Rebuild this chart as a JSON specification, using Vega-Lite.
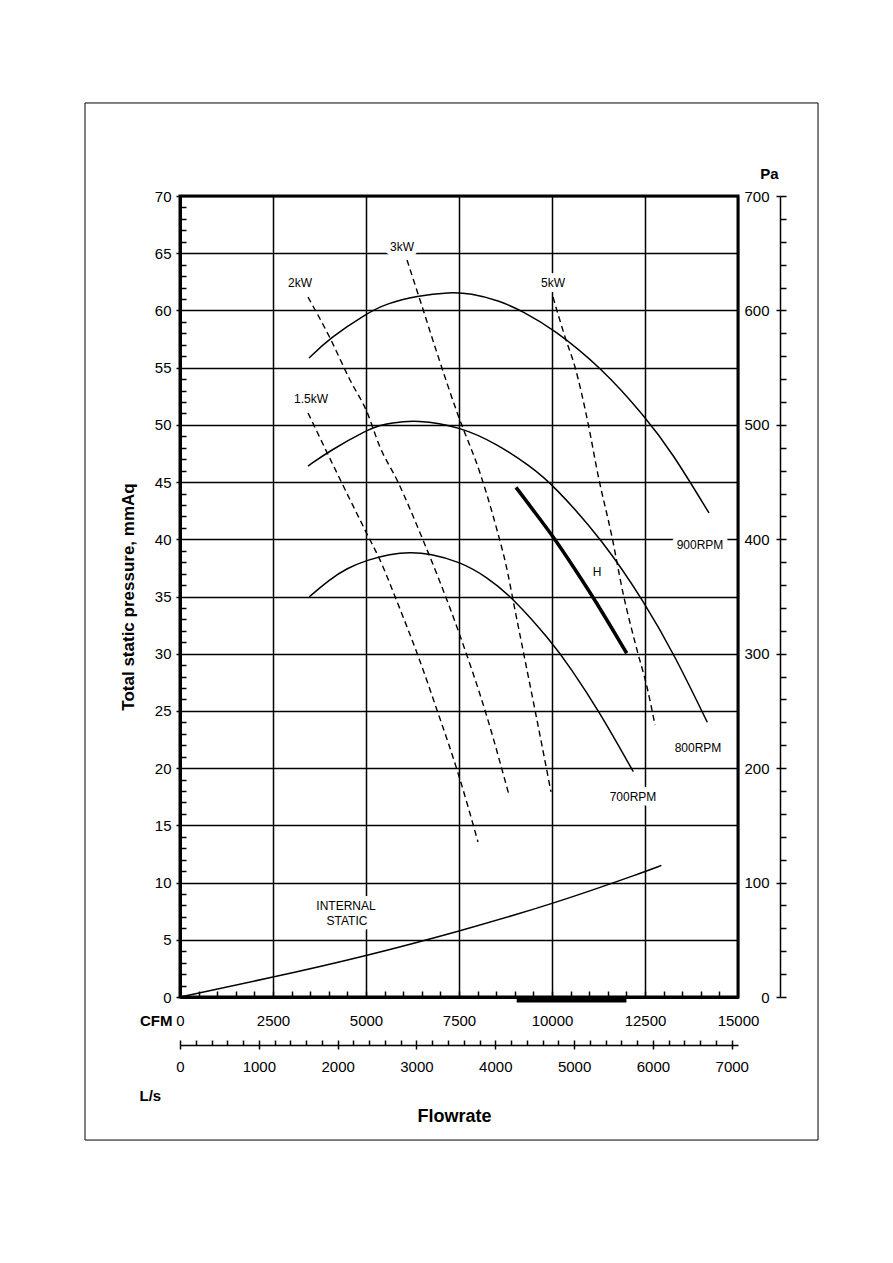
{
  "$schema": "https://vega.github.io/schema/vega-lite/v6.json",
  "width": 558,
  "height": 801,
  "autosize": {"type": "none"},
  "padding": {"left": 180, "top": 196, "right": 155, "bottom": 266},
  "background": "white",
  "config": {
    "font": "Liberation Sans",
    "view": {"stroke": "black", "strokeWidth": 3},
    "axis": {
      "domainColor": "black", "tickColor": "black", "labelColor": "black", "titleColor": "black",
      "labelFont": "Liberation Sans", "titleFont": "Liberation Sans", "labelFontSize": 15,
      "gridColor": "black", "gridOpacity": 1, "tickWidth": 1.5, "labelOverlap": false, "labelFlush": false
    }
  },
  "datasets": {
    "curves": [
      {"s": "900RPM", "cfm": 3468, "p": 55.84},
      {"s": "900RPM", "cfm": 4032, "p": 57.6},
      {"s": "900RPM", "cfm": 5019, "p": 59.75},
      {"s": "900RPM", "cfm": 5556, "p": 60.6},
      {"s": "900RPM", "cfm": 6363, "p": 61.28},
      {"s": "900RPM", "cfm": 7258, "p": 61.6},
      {"s": "900RPM", "cfm": 7796, "p": 61.5},
      {"s": "900RPM", "cfm": 8602, "p": 60.85},
      {"s": "900RPM", "cfm": 9220, "p": 59.9},
      {"s": "900RPM", "cfm": 10027, "p": 58.4},
      {"s": "900RPM", "cfm": 11336, "p": 54.97},
      {"s": "900RPM", "cfm": 12500, "p": 50.71},
      {"s": "900RPM", "cfm": 13226, "p": 47.6},
      {"s": "900RPM", "cfm": 14220, "p": 42.3},
      {"s": "800RPM", "cfm": 3441, "p": 46.4},
      {"s": "800RPM", "cfm": 4032, "p": 47.75},
      {"s": "800RPM", "cfm": 5027, "p": 49.55},
      {"s": "800RPM", "cfm": 5376, "p": 49.95},
      {"s": "800RPM", "cfm": 5645, "p": 50.15},
      {"s": "800RPM", "cfm": 6363, "p": 50.45},
      {"s": "800RPM", "cfm": 7527, "p": 49.84},
      {"s": "800RPM", "cfm": 8513, "p": 48.35},
      {"s": "800RPM", "cfm": 9409, "p": 46.4},
      {"s": "800RPM", "cfm": 10035, "p": 44.75},
      {"s": "800RPM", "cfm": 11380, "p": 39.85},
      {"s": "800RPM", "cfm": 12500, "p": 34.41},
      {"s": "800RPM", "cfm": 13306, "p": 29.8},
      {"s": "800RPM", "cfm": 14175, "p": 24.01},
      {"s": "700RPM", "cfm": 3476, "p": 34.98},
      {"s": "700RPM", "cfm": 4032, "p": 36.5},
      {"s": "700RPM", "cfm": 4481, "p": 37.46},
      {"s": "700RPM", "cfm": 5035, "p": 38.19},
      {"s": "700RPM", "cfm": 5645, "p": 38.71},
      {"s": "700RPM", "cfm": 6183, "p": 38.88},
      {"s": "700RPM", "cfm": 6720, "p": 38.75},
      {"s": "700RPM", "cfm": 7527, "p": 38.04},
      {"s": "700RPM", "cfm": 8244, "p": 36.73},
      {"s": "700RPM", "cfm": 8960, "p": 34.84},
      {"s": "700RPM", "cfm": 9946, "p": 31.2},
      {"s": "700RPM", "cfm": 10484, "p": 28.84},
      {"s": "700RPM", "cfm": 11290, "p": 24.85},
      {"s": "700RPM", "cfm": 12185, "p": 19.69},
      {"s": "INTERNAL", "cfm": 0, "p": 0},
      {"s": "INTERNAL", "cfm": 2500, "p": 1.72},
      {"s": "INTERNAL", "cfm": 5000, "p": 3.58},
      {"s": "INTERNAL", "cfm": 7500, "p": 5.74},
      {"s": "INTERNAL", "cfm": 10000, "p": 8.1},
      {"s": "INTERNAL", "cfm": 12500, "p": 10.95},
      {"s": "INTERNAL", "cfm": 12940, "p": 11.5},
      {"s": "H", "cfm": 9032, "p": 44.54},
      {"s": "H", "cfm": 9497, "p": 42.53},
      {"s": "H", "cfm": 10035, "p": 40.23},
      {"s": "H", "cfm": 10573, "p": 37.6},
      {"s": "H", "cfm": 11156, "p": 34.7},
      {"s": "H", "cfm": 12008, "p": 30.04},
      {"s": "1.5kW", "cfm": 3441, "p": 51.04},
      {"s": "1.5kW", "cfm": 4220, "p": 45.79},
      {"s": "1.5kW", "cfm": 5000, "p": 40.64},
      {"s": "1.5kW", "cfm": 5376, "p": 38.19},
      {"s": "1.5kW", "cfm": 5860, "p": 34.34},
      {"s": "1.5kW", "cfm": 6371, "p": 30.06},
      {"s": "1.5kW", "cfm": 6936, "p": 24.82},
      {"s": "1.5kW", "cfm": 7473, "p": 19.58},
      {"s": "1.5kW", "cfm": 8011, "p": 13.55},
      {"s": "2kW", "cfm": 3441, "p": 61.17},
      {"s": "2kW", "cfm": 4032, "p": 57.59},
      {"s": "2kW", "cfm": 4570, "p": 53.92},
      {"s": "2kW", "cfm": 5027, "p": 51.12},
      {"s": "2kW", "cfm": 5376, "p": 48.06},
      {"s": "2kW", "cfm": 5833, "p": 45.18},
      {"s": "2kW", "cfm": 6532, "p": 39.94},
      {"s": "2kW", "cfm": 7473, "p": 32.07},
      {"s": "2kW", "cfm": 8253, "p": 24.47},
      {"s": "2kW", "cfm": 8844, "p": 17.65},
      {"s": "3kW", "cfm": 6102, "p": 64.41},
      {"s": "3kW", "cfm": 6452, "p": 60.91},
      {"s": "3kW", "cfm": 6909, "p": 56.28},
      {"s": "3kW", "cfm": 7473, "p": 50.86},
      {"s": "3kW", "cfm": 8065, "p": 45.79},
      {"s": "3kW", "cfm": 8522, "p": 40.81},
      {"s": "3kW", "cfm": 8764, "p": 37.75},
      {"s": "3kW", "cfm": 9005, "p": 33.82},
      {"s": "3kW", "cfm": 9274, "p": 29.45},
      {"s": "3kW", "cfm": 9543, "p": 25.08},
      {"s": "3kW", "cfm": 9973, "p": 17.92},
      {"s": "5kW", "cfm": 10027, "p": 61.17},
      {"s": "5kW", "cfm": 10350, "p": 57.68},
      {"s": "5kW", "cfm": 10618, "p": 55.06},
      {"s": "5kW", "cfm": 10968, "p": 50.16},
      {"s": "5kW", "cfm": 11237, "p": 45.62},
      {"s": "5kW", "cfm": 11613, "p": 40.2},
      {"s": "5kW", "cfm": 11909, "p": 35.31},
      {"s": "5kW", "cfm": 12285, "p": 30.33},
      {"s": "5kW", "cfm": 12554, "p": 27.09},
      {"s": "5kW", "cfm": 12769, "p": 23.77}
    ],
    "labels": [
      {"t": "2kW", "cfm": 3226, "p": 62.4},
      {"t": "3kW", "cfm": 5968, "p": 65.5},
      {"t": "5kW", "cfm": 10027, "p": 62.4},
      {"t": "1.5kW", "cfm": 3522, "p": 52.3},
      {"t": "H", "cfm": 11210, "p": 37.1},
      {"t": "900RPM", "cfm": 13979, "p": 39.5},
      {"t": "800RPM", "cfm": 13925, "p": 21.8},
      {"t": "700RPM", "cfm": 12177, "p": 17.5},
      {"t": "INTERNAL", "cfm": 4462, "p": 7.95},
      {"t": "STATIC", "cfm": 4489, "p": 6.64}
    ],
    "bar": [{"a": 9050, "b": 12000, "p": 0}],
    "frame": [{"x0": -2554, "x1": 17151, "y0": -12.5, "y1": 78.13}]
  },
  "resolve": {"axis": {"x": "independent", "y": "independent"}},
  "layer": [
    {
      "data": {"name": "frame"},
      "mark": {"type": "rect", "filled": false, "stroke": "black", "strokeWidth": 1, "clip": false},
      "encoding": {
        "x": {"field": "x0", "type": "quantitative", "scale": {"domain": [0, 15000], "nice": false}, "axis": null},
        "x2": {"field": "x1"},
        "y": {"field": "y0", "type": "quantitative", "scale": {"domain": [0, 70], "nice": false}, "axis": null},
        "y2": {"field": "y1"}
      }
    },
    {
      "data": {"name": "labels"},
      "mark": {"type": "text", "fontSize": 12, "fill": "white", "stroke": "white", "strokeWidth": 10, "strokeJoin": "round", "align": "center", "baseline": "middle"},
      "encoding": {
        "x": {"field": "cfm", "type": "quantitative", "scale": {"domain": [0, 15000], "nice": false}, "axis": null},
        "y": {"field": "p", "type": "quantitative", "scale": {"domain": [0, 70], "nice": false}, "axis": null},
        "text": {"field": "t"}
      }
    },
    {
      "data": {"name": "curves"},
      "transform": [{"filter": {"field": "s", "oneOf": ["900RPM", "800RPM", "700RPM", "INTERNAL"]}}],
      "mark": {"type": "line", "color": "black", "strokeWidth": 1.5, "interpolate": "basis"},
      "encoding": {
        "x": {"field": "cfm", "type": "quantitative", "scale": {"domain": [0, 15000], "nice": false},
          "axis": {"orient": "bottom", "values": [0, 2500, 5000, 7500, 10000, 12500, 15000], "format": "d",
            "tickSize": 0, "labelPadding": 16.5, "grid": true, "gridWidth": 1.5, "domain": true, "domainWidth": 3,
            "title": "CFM", "titleX": -8, "titleY": 23, "titleAlign": "right", "titleBaseline": "middle",
            "titleFontSize": 15, "titleFontWeight": "bold", "titleAngle": 0}},
        "y": {"field": "p", "type": "quantitative", "scale": {"domain": [0, 70], "nice": false},
          "axis": {"orient": "left", "values": [0, 5, 10, 15, 20, 25, 30, 35, 40, 45, 50, 55, 60, 65, 70],
            "tickSize": 4, "labelPadding": 5, "grid": true, "gridWidth": 1.5, "domain": true, "domainWidth": 3,
            "title": "Total static pressure, mmAq", "titleX": -52, "titleY": 400.5, "titleAngle": -90,
            "titleAlign": "center", "titleBaseline": "middle", "titleFontSize": 17, "titleFontWeight": "bold"}},
        "detail": {"field": "s"}
      }
    },
    {
      "data": {"name": "curves"},
      "transform": [{"filter": {"field": "s", "equal": "H"}}],
      "mark": {"type": "line", "color": "black", "strokeWidth": 3.5, "interpolate": "basis"},
      "encoding": {
        "x": {"field": "cfm", "type": "quantitative", "scale": {"domain": [0, 15000], "nice": false},
          "axis": {"orient": "top", "offset": -801,
            "values": [500, 1000, 1500, 2000, 2500, 3000, 3500, 4000, 4500, 5000, 5500, 6000, 6500, 7000, 7500, 8000, 8500, 9000, 9500, 10000, 10500, 11000, 11500, 12000, 12500, 13000, 13500, 14000, 14500],
            "tickSize": 6, "labels": false, "domain": false, "grid": false, "title": null}},
        "y": {"field": "p", "type": "quantitative", "scale": {"domain": [0, 70], "nice": false},
          "axis": {"orient": "right", "offset": -558,
            "values": [1, 2, 3, 4, 6, 7, 8, 9, 11, 12, 13, 14, 16, 17, 18, 19, 21, 22, 23, 24, 26, 27, 28, 29, 31, 32, 33, 34, 36, 37, 38, 39, 41, 42, 43, 44, 46, 47, 48, 49, 51, 52, 53, 54, 56, 57, 58, 59, 61, 62, 63, 64, 66, 67, 68, 69],
            "tickSize": 6, "labels": false, "domain": false, "grid": false, "title": null}}
      }
    },
    {
      "data": {"name": "curves"},
      "transform": [{"filter": {"field": "s", "oneOf": ["1.5kW", "2kW", "3kW", "5kW"]}}],
      "mark": {"type": "line", "color": "black", "strokeWidth": 1.4, "strokeDash": [6, 4], "interpolate": "monotone"},
      "encoding": {
        "x": {"field": "cfm", "type": "quantitative", "scale": {"domain": [0, 15000], "nice": false},
          "axis": {"orient": "bottom", "offset": 48,
            "values": [0, 2118.88, 4237.76, 6356.64, 8475.52, 10594.4, 12713.28, 14832.16],
            "labelExpr": "round(datum.value / 2.11888)", "tickSize": 4, "labelPadding": 10.5,
            "domain": true, "domainWidth": 1.5, "grid": false,
            "title": "Flowrate", "titleX": 274, "titleY": 71, "titleAlign": "center", "titleBaseline": "middle",
            "titleFontSize": 18, "titleFontWeight": "bold", "titleAngle": 0}},
        "y": {"field": "p", "type": "quantitative", "scale": {"domain": [0, 70], "nice": false},
          "axis": {"orient": "left", "offset": -600, "values": [0, 10, 20, 30, 40, 50, 60, 70],
            "labelExpr": "datum.value * 10", "tickSize": 4, "labelPadding": 7,
            "domain": false, "grid": false, "title": null}},
        "detail": {"field": "s"}
      }
    },
    {
      "data": {"name": "bar"},
      "mark": {"type": "rule", "color": "black", "strokeWidth": 6, "yOffset": 2.5},
      "encoding": {
        "x": {"field": "a", "type": "quantitative", "scale": {"domain": [0, 15000], "nice": false},
          "axis": {"orient": "top", "offset": -849,
            "values": [0, 423.776, 847.552, 1271.328, 1695.104, 2118.88, 2542.656, 2966.432, 3390.208, 3813.984, 4237.76, 4661.536, 5085.312, 5509.088, 5932.864, 6356.64, 6780.416, 7204.192, 7627.968, 8051.744, 8475.52, 8899.296, 9323.072, 9746.848, 10170.624, 10594.4, 11018.176, 11441.952, 11865.728, 12289.504, 12713.28, 13137.056, 13560.832, 13984.608, 14408.384, 14832.16],
            "tickSize": 5, "labels": false, "domain": false, "grid": false,
            "title": "L/s", "titleX": -41, "titleY": 50, "titleAlign": "left", "titleBaseline": "middle",
            "titleFontSize": 15, "titleFontWeight": "bold", "titleAngle": 0}},
        "x2": {"field": "b"},
        "y": {"field": "p", "type": "quantitative", "scale": {"domain": [0, 70], "nice": false},
          "axis": {"orient": "right", "offset": 42,
            "values": [0, 2, 4, 6, 8, 10, 12, 14, 16, 18, 20, 22, 24, 26, 28, 30, 32, 34, 36, 38, 40, 42, 44, 46, 48, 50, 52, 54, 56, 58, 60, 62, 64, 66, 68, 70],
            "tickSize": 6, "labels": false, "domain": true, "domainWidth": 1.5, "grid": false,
            "title": "Pa", "titleX": -2, "titleY": -23, "titleAlign": "right", "titleBaseline": "middle",
            "titleAngle": 0, "titleFontSize": 15, "titleFontWeight": "bold"}}
      }
    },
    {
      "data": {"name": "labels"},
      "mark": {"type": "text", "fontSize": 12, "color": "black", "align": "center", "baseline": "middle"},
      "encoding": {
        "x": {"field": "cfm", "type": "quantitative", "scale": {"domain": [0, 15000], "nice": false}, "axis": null},
        "y": {"field": "p", "type": "quantitative", "scale": {"domain": [0, 70], "nice": false}, "axis": null},
        "text": {"field": "t"}
      }
    }
  ]
}
